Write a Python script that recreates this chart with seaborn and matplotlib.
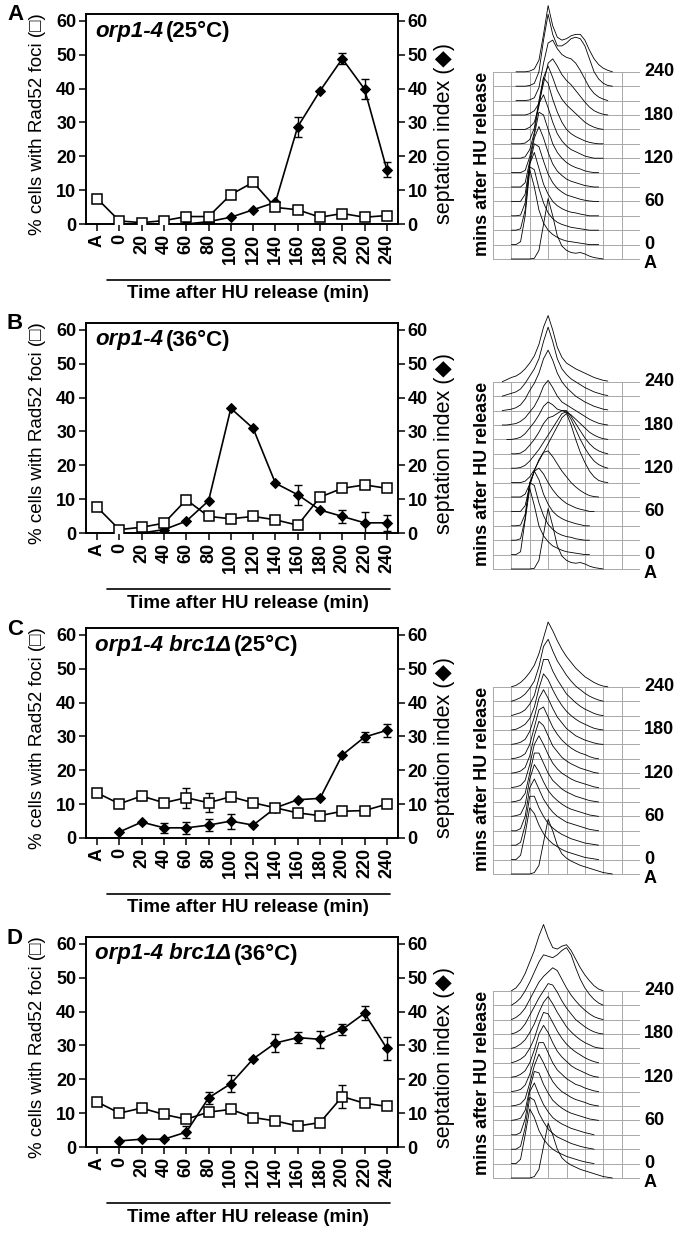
import numpy as np
import pandas as pd
import matplotlib
matplotlib.use("Agg")
import matplotlib.pyplot as plt
import seaborn as sns

N = None

TIMES = ["A", "0", "20", "40", "60", "80", "100", "120", "140", "160", "180", "200", "220", "240"]

# panel A: orp1-4 25C
RAD52_A = [7.5, 0.9, 0.4, 1.0, 2.2, 2.2, 8.7, 12.3, 4.9, 4.2, 2.0, 3.1, 2.0, 2.5]
RAD52_A_ERR = [0, 0, 0, 0, 0, 0, 1.0, 0.6, 0, 0, 0, 0, 0, 0]
SEPT_A = [N, 0.0, 0.0, 0.0, 0.0, 0.7, 2.0, 4.2, 6.4, 28.7, 39.3, 48.8, 39.8, 16.0]
SEPT_A_ERR = [0, 0, 0, 0, 0, 0, 0, 0, 0, 2.9, 0, 1.6, 3.0, 2.2]

# panel B: orp1-4 36C
RAD52_B = [7.6, 1.0, 1.7, 2.9, 9.8, 4.9, 4.2, 4.9, 3.9, 2.3, 10.6, 13.2, 14.2, 13.2]
RAD52_B_ERR = [0, 0, 0, 0, 0, 0, 0.6, 0, 0, 0, 0, 0, 0, 0]
SEPT_B = [N, 0.0, 0.0, 1.0, 3.5, 9.5, 36.8, 30.9, 14.7, 11.3, 6.8, 4.9, 3.0, 3.0]
SEPT_B_ERR = [0, 0, 0, 0, 0, 0, 0, 0, 0, 2.9, 0, 1.8, 3.3, 2.3]

# panel C: orp1-4 brc1D 25C
RAD52_C = [13.3, 10.1, 12.4, 10.4, 11.9, 10.4, 12.2, 10.4, 8.9, 7.4, 6.6, 7.9, 8.1, 10.0]
RAD52_C_ERR = [0, 0, 1.2, 0, 3.0, 2.8, 0, 0.7, 0, 1.0, 0, 0, 0, 0.8]
SEPT_C = [N, 1.8, 4.7, 3.0, 3.0, 3.8, 5.0, 3.8, 8.9, 11.3, 11.7, 24.5, 29.8, 31.8]
SEPT_C_ERR = [0, 0, 0, 1.5, 1.7, 1.8, 2.2, 0, 0, 0, 0, 0, 1.5, 2.0]

# panel D: orp1-4 brc1D 36C
RAD52_D = [13.3, 10.0, 11.5, 9.6, 8.2, 10.3, 11.1, 8.7, 7.7, 6.2, 7.2, 14.9, 12.9, 12.0]
RAD52_D_ERR = [0, 0, 0, 0, 0, 1.0, 0.8, 0, 0, 0, 0, 3.5, 0, 0]
SEPT_D = [N, 1.8, 2.3, 2.3, 4.4, 14.5, 18.7, 26.0, 30.7, 32.3, 31.8, 34.7, 39.5, 29.1]
SEPT_D_ERR = [0, 0, 0, 0, 1.8, 1.8, 2.5, 0, 2.6, 1.7, 2.5, 1.6, 2.0, 3.4]

# DNA content profiles, height in row units at HIST_X (channel grid units)
HIST_X = [0.5, 0.75, 1.0, 1.25, 1.5, 1.75, 2.0, 2.25, 2.5, 2.75, 3.0, 3.25, 3.5,
          3.75, 4.0, 4.25, 4.5, 4.75, 5.0, 5.25, 5.5, 5.75, 6.0, 6.25, 6.5]
FACS_LABELS = ["240", "180", "120", "60", "0", "A"]

FACS_A = [
    [N, N, 0, 0, 0, 0, 0, 0.05, 0.6, 2.4, 4.2, 3.0, 1.6, 0.9, 0.6, 0.45, 0.4, 0.45, 0.35, 0.2, 0.1, 0.05, 0, N, N],
    [N, N, 0, 0, 0.2, 2.0, 5.2, 4.0, 2.4, 1.5, 1.0, 0.7, 0.5, 0.35, 0.25, 0.2, 0.15, 0.1, 0.05, 0, 0, 0, N, N, N],
    [N, N, 0, 0, 0.1, 1.4, 4.4, 4.2, 2.9, 1.9, 1.2, 0.8, 0.55, 0.4, 0.3, 0.2, 0.15, 0.1, 0.05, 0, 0, 0, N, N, N],
    [N, N, 0, 0, 0.05, 0.9, 3.6, 4.4, 3.3, 2.2, 1.5, 1.0, 0.7, 0.5, 0.35, 0.25, 0.2, 0.12, 0.06, 0, 0, 0, N, N, N],
    [N, N, 0, 0, 0, 0.5, 2.6, 4.0, 3.8, 2.8, 1.9, 1.3, 0.9, 0.65, 0.45, 0.35, 0.25, 0.15, 0.08, 0.03, 0, 0, N, N, N],
    [N, N, 0, 0, 0, 0.3, 1.8, 3.4, 4.2, 3.4, 2.4, 1.6, 1.1, 0.8, 0.55, 0.4, 0.3, 0.2, 0.1, 0.05, 0, 0, N, N, N],
    [N, N, 0, 0, 0, 0.15, 1.1, 2.6, 4.2, 4.0, 3.0, 2.0, 1.4, 1.0, 0.7, 0.5, 0.35, 0.25, 0.12, 0.05, 0, 0, N, N, N],
    [N, N, 0, 0, 0, 0.1, 0.6, 1.8, 3.8, 4.4, 3.5, 2.5, 1.7, 1.2, 0.85, 0.6, 0.45, 0.3, 0.15, 0.07, 0, 0, 0, N, N],
    [N, N, 0, 0, 0, 0.05, 0.3, 1.1, 3.0, 4.6, 4.2, 3.1, 2.2, 1.5, 1.0, 0.7, 0.5, 0.35, 0.2, 0.1, 0.04, 0, 0, N, N],
    [N, N, 0, 0, 0, 0, 0.15, 0.5, 1.6, 3.6, 4.4, 3.6, 2.7, 2.1, 1.7, 1.4, 1.1, 0.8, 0.5, 0.3, 0.15, 0.05, 0, N, N],
    [N, N, 0, 0, 0, 0, 0.1, 0.3, 0.8, 2.2, 3.6, 3.9, 3.4, 2.8, 2.4, 2.1, 1.7, 1.3, 0.9, 0.55, 0.3, 0.15, 0.05, 0, N],
    [N, N, N, 0, 0, 0, 0.05, 0.2, 0.9, 2.6, 4.0, 4.2, 3.6, 3.2, 3.0, 2.9, 2.6, 2.1, 1.5, 0.9, 0.5, 0.25, 0.1, 0, N],
    [N, N, N, 0, 0, 0, 0.05, 0.2, 1.0, 3.2, 5.0, 3.6, 2.8, 2.8, 3.0, 3.3, 3.4, 3.3, 2.8, 1.9, 1.0, 0.5, 0.2, 0.05, 0],
    [N, N, N, 0, 0, 0, 0.05, 0.2, 0.8, 2.6, 4.6, 3.2, 2.4, 2.2, 2.3, 2.5, 2.6, 2.6, 2.2, 1.5, 0.9, 0.5, 0.25, 0.1, 0],
]

FACS_B = [
    [N, N, 0, 0, 0, 0, 0, 0.05, 0.6, 2.4, 4.2, 3.0, 1.6, 0.9, 0.6, 0.45, 0.4, 0.45, 0.35, 0.2, 0.1, 0.05, 0, N, N],
    [N, N, 0, 0, 0.2, 2.4, 4.6, 3.4, 2.0, 1.3, 0.9, 0.6, 0.45, 0.3, 0.2, 0.15, 0.1, 0.05, 0, 0, N, N, N, N, N],
    [N, N, 0, 0, 0.1, 1.5, 4.0, 3.8, 2.6, 1.7, 1.1, 0.75, 0.5, 0.35, 0.25, 0.2, 0.1, 0.05, 0, 0, N, N, N, N, N],
    [N, N, 0, 0, 0.05, 0.8, 3.0, 3.8, 3.2, 2.2, 1.5, 1.0, 0.7, 0.5, 0.35, 0.25, 0.15, 0.08, 0, 0, N, N, N, N, N],
    [N, N, 0, 0, 0, 0.4, 1.8, 2.8, 3.0, 2.6, 2.0, 1.5, 1.1, 0.8, 0.55, 0.4, 0.25, 0.15, 0.08, 0, 0, N, N, N, N],
    [N, N, 0, 0, 0, 0.2, 0.9, 1.8, 2.6, 3.1, 3.2, 2.8, 2.3, 1.8, 1.4, 1.0, 0.7, 0.45, 0.25, 0.1, 0.03, 0, N, N, N],
    [N, N, 0, 0, 0, 0.1, 0.4, 0.9, 1.5, 2.1, 2.7, 3.3, 3.9, 4.5, 4.8, 4.0, 3.0, 2.1, 1.4, 0.8, 0.4, 0.15, 0.05, 0, N],
    [N, N, 0, 0, 0.05, 0.2, 0.5, 0.9, 1.3, 1.8, 2.3, 2.8, 3.3, 3.8, 3.9, 3.4, 2.7, 2.0, 1.4, 0.9, 0.5, 0.25, 0.1, 0, N],
    [N, N, 0, 0, 0.05, 0.25, 0.6, 1.0, 1.5, 2.1, 2.5, 2.6, 2.8, 3.0, 3.0, 2.6, 2.1, 1.6, 1.1, 0.7, 0.4, 0.2, 0.08, 0, N],
    [N, 0, 0, 0.05, 0.15, 0.4, 0.8, 1.2, 1.7, 2.3, 2.6, 2.4, 2.1, 2.0, 1.9, 1.7, 1.4, 1.1, 0.8, 0.5, 0.3, 0.15, 0.05, 0, N],
    [0, 0, 0.05, 0.1, 0.25, 0.5, 0.9, 1.3, 1.9, 2.7, 3.1, 2.6, 2.0, 1.6, 1.4, 1.2, 1.0, 0.8, 0.6, 0.4, 0.25, 0.12, 0.05, 0, N],
    [0, 0.05, 0.1, 0.2, 0.4, 0.8, 1.4, 1.9, 2.6, 3.6, 4.2, 3.5, 2.6, 2.0, 1.6, 1.3, 1.0, 0.8, 0.6, 0.45, 0.3, 0.2, 0.1, 0.05, N],
    [0, 0.1, 0.2, 0.3, 0.5, 0.9, 1.4, 1.9, 2.6, 3.8, 4.8, 3.8, 2.6, 1.9, 1.5, 1.2, 1.0, 0.8, 0.6, 0.45, 0.3, 0.2, 0.1, 0.05, N],
    [0, 0.15, 0.3, 0.4, 0.6, 0.9, 1.3, 1.8, 2.6, 3.8, 4.6, 3.6, 2.4, 1.7, 1.3, 1.1, 0.9, 0.75, 0.6, 0.45, 0.3, 0.2, 0.1, 0.05, N],
]

FACS_C = [
    [N, N, 0, 0, 0, 0, 0, 0.1, 0.6, 2.2, 3.8, 3.0, 2.0, 1.4, 1.1, 0.9, 0.75, 0.6, 0.5, 0.4, 0.3, 0.2, 0.1, 0.05, 0],
    [N, N, 0, 0, 0.3, 1.8, 3.6, 3.2, 2.4, 1.8, 1.4, 1.1, 0.9, 0.7, 0.55, 0.45, 0.35, 0.25, 0.15, 0.1, 0.05, 0, N, N, N],
    [N, N, 0, 0, 0.2, 1.4, 3.4, 3.4, 2.6, 2.0, 1.5, 1.2, 0.95, 0.75, 0.6, 0.45, 0.35, 0.25, 0.15, 0.1, 0.05, 0, N, N, N],
    [N, N, 0, 0, 0.15, 1.0, 3.0, 3.6, 2.9, 2.2, 1.7, 1.3, 1.0, 0.8, 0.6, 0.5, 0.4, 0.3, 0.2, 0.1, 0.05, 0, N, N, N],
    [N, N, 0, 0.05, 0.15, 0.8, 2.6, 3.6, 3.1, 2.4, 1.8, 1.4, 1.1, 0.85, 0.65, 0.5, 0.4, 0.3, 0.2, 0.1, 0.05, 0, N, N, N],
    [N, N, 0, 0.05, 0.15, 0.6, 2.0, 3.4, 3.4, 2.7, 2.0, 1.5, 1.2, 0.9, 0.7, 0.55, 0.4, 0.3, 0.2, 0.1, 0.05, 0, N, N, N],
    [N, N, 0, 0.05, 0.15, 0.5, 1.6, 3.0, 3.6, 3.0, 2.3, 1.7, 1.3, 1.0, 0.8, 0.6, 0.45, 0.35, 0.25, 0.15, 0.05, 0, N, N, N],
    [N, N, 0, 0.05, 0.15, 0.4, 1.2, 2.6, 3.6, 3.3, 2.6, 1.9, 1.5, 1.1, 0.85, 0.65, 0.5, 0.35, 0.25, 0.15, 0.05, 0, N, N, N],
    [N, N, 0, 0.05, 0.15, 0.35, 1.0, 2.2, 3.4, 3.6, 2.9, 2.2, 1.7, 1.3, 1.0, 0.75, 0.55, 0.4, 0.3, 0.15, 0.05, 0, N, N, N],
    [N, N, 0, 0.05, 0.15, 0.35, 0.9, 1.9, 3.2, 3.8, 3.2, 2.5, 1.9, 1.5, 1.1, 0.85, 0.6, 0.45, 0.3, 0.2, 0.1, 0.03, 0, N, N],
    [N, N, 0, 0.05, 0.2, 0.4, 0.8, 1.6, 2.9, 3.9, 3.5, 2.8, 2.2, 1.7, 1.3, 1.0, 0.75, 0.55, 0.4, 0.25, 0.12, 0.05, 0, N, N],
    [N, N, 0, 0.1, 0.2, 0.4, 0.8, 1.4, 2.6, 3.9, 3.9, 3.1, 2.5, 2.0, 1.5, 1.2, 0.9, 0.65, 0.45, 0.3, 0.15, 0.05, 0, N, N],
    [N, N, 0, 0.1, 0.25, 0.5, 0.9, 1.4, 2.4, 3.8, 4.3, 3.5, 2.8, 2.3, 1.8, 1.4, 1.05, 0.8, 0.55, 0.35, 0.2, 0.08, 0, N, N],
    [N, N, 0, 0.1, 0.3, 0.6, 1.0, 1.5, 2.3, 3.4, 4.5, 3.9, 3.2, 2.6, 2.1, 1.7, 1.3, 1.0, 0.7, 0.5, 0.3, 0.15, 0.05, 0, N],
]

FACS_D = [
    [N, N, 0, 0, 0, 0, 0, 0.1, 0.6, 2.2, 3.8, 3.0, 2.0, 1.4, 1.1, 0.9, 0.75, 0.6, 0.5, 0.4, 0.3, 0.2, 0.1, 0.05, 0],
    [N, N, 0, 0, 0.3, 2.0, 3.8, 3.2, 2.3, 1.7, 1.3, 1.0, 0.8, 0.65, 0.5, 0.4, 0.3, 0.2, 0.12, 0.06, 0, N, N, N, N],
    [N, N, 0, 0, 0.2, 1.5, 3.6, 3.4, 2.5, 1.9, 1.4, 1.1, 0.85, 0.7, 0.55, 0.4, 0.3, 0.2, 0.12, 0.06, 0, N, N, N, N],
    [N, N, 0, 0, 0.15, 1.1, 3.0, 3.6, 2.8, 2.1, 1.6, 1.2, 0.95, 0.75, 0.6, 0.45, 0.35, 0.25, 0.15, 0.08, 0, N, N, N, N],
    [N, N, 0, 0.05, 0.15, 0.7, 2.2, 3.4, 3.3, 2.5, 1.9, 1.4, 1.1, 0.85, 0.65, 0.5, 0.4, 0.3, 0.2, 0.1, 0.05, 0, N, N, N],
    [N, N, 0, 0.05, 0.15, 0.5, 1.6, 2.8, 3.6, 3.0, 2.3, 1.7, 1.3, 1.0, 0.8, 0.6, 0.45, 0.35, 0.25, 0.12, 0.05, 0, N, N, N],
    [N, N, 0, 0.05, 0.15, 0.45, 1.2, 2.3, 3.4, 3.4, 2.7, 2.0, 1.5, 1.2, 0.9, 0.7, 0.5, 0.4, 0.25, 0.15, 0.05, 0, N, N, N],
    [N, N, 0, 0.05, 0.2, 0.45, 1.0, 1.9, 3.0, 3.6, 3.1, 2.4, 1.8, 1.4, 1.1, 0.8, 0.6, 0.45, 0.3, 0.15, 0.05, 0, N, N, N],
    [N, N, 0, 0.1, 0.25, 0.5, 1.0, 1.7, 2.7, 3.5, 3.4, 2.8, 2.2, 1.7, 1.3, 1.0, 0.75, 0.55, 0.35, 0.2, 0.08, 0, N, N, N],
    [N, N, 0, 0.1, 0.3, 0.6, 1.1, 1.7, 2.5, 3.2, 3.6, 3.1, 2.5, 2.0, 1.5, 1.15, 0.85, 0.6, 0.4, 0.25, 0.1, 0.03, 0, N, N],
    [N, N, 0, 0.1, 0.3, 0.7, 1.3, 1.9, 2.5, 3.0, 3.5, 3.4, 2.9, 2.3, 1.8, 1.4, 1.0, 0.75, 0.5, 0.3, 0.15, 0.05, 0, N, N],
    [N, N, 0, 0.15, 0.4, 0.8, 1.4, 2.0, 2.6, 3.0, 3.3, 3.6, 3.4, 2.8, 2.2, 1.7, 1.3, 0.95, 0.65, 0.4, 0.2, 0.08, 0, N, N],
    [N, N, 0, 0.2, 0.5, 1.0, 1.6, 2.3, 3.0, 3.5, 3.4, 3.3, 3.5, 3.8, 4.0, 3.5, 2.6, 1.8, 1.2, 0.75, 0.4, 0.15, 0, N, N],
    [N, N, 0, 0.2, 0.6, 1.2, 2.0, 2.8, 3.8, 4.6, 3.7, 3.0, 2.9, 3.1, 3.2, 2.8, 2.2, 1.6, 1.1, 0.7, 0.35, 0.12, 0, N, N],
]

W, H = 684, 1235


def box(l, t, r, b):
    return [l / W, 1 - b / H, (r - l) / W, (b - t) / H]


def line_panel(fig, top, zero, letter, title_it, title_rest, rad, rad_err, sept, sept_err):
    ax = fig.add_axes(box(86, top, 398, zero))
    ax2 = ax.twinx()
    pos = list(range(len(TIMES)))
    df = pd.DataFrame({"pos": pos, "rad": rad, "rad_err": rad_err,
                       "sept": np.array(sept, dtype=float), "sept_err": sept_err})

    ds = df.dropna(subset=["sept"])
    ax2.errorbar(ds["pos"], ds["sept"], yerr=ds["sept_err"].where(ds["sept_err"] > 0),
                 fmt="none", ecolor="black", elinewidth=1.0, capsize=3.2, capthick=1.0, zorder=2)
    sns.lineplot(data=ds, x="pos", y="sept", ax=ax2, color="black", lw=1.2,
                 marker="D", markersize=5.2, markerfacecolor="black", markeredgecolor="black", zorder=3)

    ax.errorbar(df["pos"], df["rad"], yerr=df["rad_err"].where(df["rad_err"] > 0),
                fmt="none", ecolor="black", elinewidth=1.0, capsize=3.2, capthick=1.0, zorder=2)
    sns.lineplot(data=df, x="pos", y="rad", ax=ax, color="black", lw=1.2,
                 marker="s", markersize=7.2, markerfacecolor="white", markeredgecolor="black",
                 markeredgewidth=1.1, zorder=4)

    ax.set_zorder(ax2.get_zorder() + 1)
    ax.patch.set_visible(False)

    for a in (ax, ax2):
        a.set_ylim(0, 62)
        a.set_xlim(-0.5, len(TIMES) - 0.5)
        a.set_yticks(range(0, 61, 10))
        a.set_xlabel("")
        a.set_ylabel("")
        for s in a.spines.values():
            s.set_linewidth(1.2)
            s.set_visible(True)
        a.tick_params(direction="out", length=5, width=1.1, labelsize=13, pad=2)
    ax.set_xticks(pos)
    ax.set_xticklabels(TIMES, rotation=90, fontweight="bold")
    ax.tick_params(axis="x", pad=2)
    ax2.tick_params(axis="x", bottom=False, labelbottom=False)
    for t in ax.get_yticklabels() + ax2.get_yticklabels():
        t.set_fontweight("bold")

    fig.text(38 / W, 1 - (top + 110) / H, "% cells with Rad52 foci (\u25a1)", rotation=90,
             ha="center", va="center", fontsize=13.5)
    fig.text(445 / W, 1 - (top + 120) / H, "septation index (\u25c6)", rotation=90,
             ha="center", va="center", fontsize=15.5)
    fig.add_artist(plt.Line2D([107 / W, 390 / W], [1 - (zero + 56) / H] * 2, color="black", lw=1.2))
    fig.text(248 / W, 1 - (zero + 70) / H, "Time after HU release (min)", ha="center", va="center",
             fontsize=13.5, fontweight="bold")
    fig.text(7 / W, 1 - (top + 1) / H, letter, ha="left", va="center", fontsize=16, fontweight="bold")

    t1 = fig.text(95 / W, 1 - (top + 17) / H, title_it, ha="left", va="center", fontsize=16,
                  fontweight="bold", fontstyle="italic")
    r = fig.canvas.get_renderer()
    bb = t1.get_window_extent(r)
    fig.text((bb.x1 + 3) / fig.bbox.width, 1 - (top + 17) / H, title_rest, ha="left", va="center",
             fontsize=16, fontweight="bold")


def facs_panel(fig, base, curves):
    row = 14.4
    ax = fig.add_axes(box(493, base - 17.8 * row, 640, base + 0.6 * row))
    ax.set_xlim(0, 8)
    ax.set_ylim(-0.6, 17.8)
    ax.axis("off")
    n = len(curves)
    for r in range(n):
        ax.plot([0, 8], [r, r], color="#a8a8a8", lw=0.7, zorder=1)
    for c in range(9):
        ax.plot([c, c], [0, n - 1], color="#a8a8a8", lw=0.7, zorder=1)
    for i, vals in enumerate(curves):
        y = np.array(vals, dtype=float) + i
        d = pd.DataFrame({"x": HIST_X, "y": y}).dropna()
        sns.lineplot(data=d, x="x", y="y", ax=ax, color="black", lw=0.6, estimator=None,
                     sort=False, zorder=3)
    ax.set_xlabel("")
    ax.set_ylabel("")
    for k, lab in enumerate(FACS_LABELS):
        rr = 13 - 3 * k if lab != "A" else -0.3
        fig.text(644 / W, 1 - (base - rr * row) / H, lab, ha="left", va="center",
                 fontsize=13, fontweight="bold")
    fig.text(482 / W, 1 - (base - 6.6 * row) / H, "mins after HU release", rotation=90,
             ha="center", va="center", fontsize=13, fontweight="bold")


sns.set_theme(style="ticks")
plt.rcParams["font.family"] = ["Liberation Sans", "DejaVu Sans"]
plt.rcParams["text.color"] = "black"
plt.rcParams["axes.labelcolor"] = "black"
plt.rcParams["axes.edgecolor"] = "black"
plt.rcParams["xtick.color"] = "black"
plt.rcParams["ytick.color"] = "black"

fig = plt.figure(figsize=(6.84, 12.35), dpi=100)

panels = [
    (14, 224, 259, "A", "orp1-4", "(25°C)", RAD52_A, RAD52_A_ERR, SEPT_A, SEPT_A_ERR, FACS_A),
    (323, 533, 569, "B", "orp1-4", "(36°C)", RAD52_B, RAD52_B_ERR, SEPT_B, SEPT_B_ERR, FACS_B),
    (628, 838, 874, "C", "orp1-4 brc1\u0394", "(25°C)", RAD52_C, RAD52_C_ERR, SEPT_C, SEPT_C_ERR, FACS_C),
    (937, 1147, 1178, "D", "orp1-4 brc1\u0394", "(36°C)", RAD52_D, RAD52_D_ERR, SEPT_D, SEPT_D_ERR, FACS_D),
]
for top, zero, base, letter, ti, tr, rad, rade, sept, septe, facs in panels:
    line_panel(fig, top, zero, letter, ti, tr, rad, rade, sept, septe)
    facs_panel(fig, base, facs)

fig.savefig("out.png", dpi=100)
